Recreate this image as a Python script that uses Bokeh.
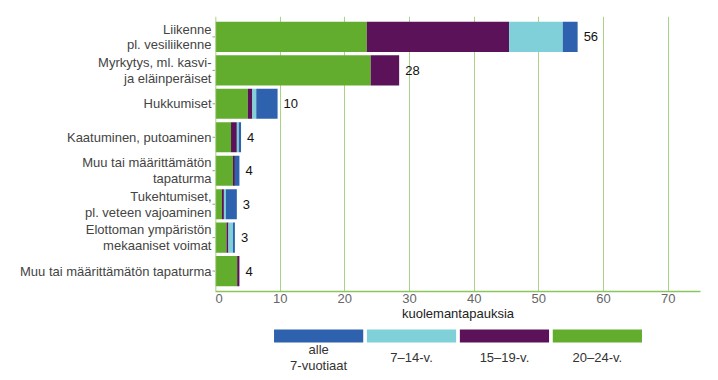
import math
from bokeh.plotting import figure
from bokeh.models import FactorRange, Range1d, FixedTicker, ColumnDataSource, Span
from bokeh.layouts import column, row
from bokeh.core.properties import value
from bokeh.embed import file_html
from bokeh.resources import INLINE

categories = [
    "Liikenne\npl. vesiliikenne",
    "Myrkytys, ml. kasvi-\nja eläinperäiset",
    "Hukkumiset",
    "Kaatuminen, putoaminen",
    "Muu tai määrittämätön\ntapaturma",
    "Tukehtumiset,\npl. veteen vajoaminen",
    "Elottoman ympäristön\nmekaaniset voimat",
    "Muu tai määrittämätön tapaturma",
]
v20_24 = [23.4, 24.0, 5.0, 2.4, 2.7, 1.0, 1.7, 3.35]
v15_19 = [22.0, 4.4, 0.7, 0.9, 0.3, 0.3, 0.3, 0.35]
v7_14 = [8.3, 0.0, 0.6, 0.3, 0.0, 0.3, 0.7, 0.0]
alle7 = [2.3, 0.0, 3.3, 0.35, 0.7, 1.7, 0.3, 0.0]
totals_label = ["56", "28", "10", "4", "4", "3", "3", "4"]

series_keys = ["v20_24", "v15_19", "v7_14", "alle7"]
series_colors = ["#63ad2e", "#5b1259", "#7fd0d9", "#2e62ae"]
legend_labels = ["alle\n7-vuotiaat", "7–14-v.", "15–19-v.", "20–24-v."]
legend_colors = ["#2e62ae", "#7fd0d9", "#5b1259", "#63ad2e"]
x_ticks = [0, 10, 20, 30, 40, 50, 60, 70]

FONT = "Liberation Sans"
GRID = "#a9d487"
AXIS = "#8cc45e"
LEFT = 215
RIGHT = 10
W = 710
H = 324
TOP = 16
BOTTOM = 33

ends = [a + b + c + d for a, b, c, d in zip(v20_24, v15_19, v7_14, alle7)]
ones = [1] * len(categories)
src = ColumnDataSource(dict(cat=categories, v20_24=v20_24, v15_19=v15_19,
                            v7_14=v7_14, alle7=alle7, end=ends, lab=totals_label,
                            one=ones))

yr = FactorRange(factors=list(reversed(categories)), range_padding=0.11,
                 range_padding_units="absolute")

p = figure(width=W - LEFT, height=H, output_backend="svg", toolbar_location=None,
           y_range=yr, x_range=Range1d(0, 75),
           min_border_left=0, min_border_right=RIGHT,
           min_border_top=TOP, min_border_bottom=BOTTOM)
p.outline_line_color = None
p.hbar_stack(series_keys, y="cat", height=0.9, color=series_colors, source=src,
             line_color=None)
p.text(x="end", y="cat", text="lab", source=src, x_offset=6, text_baseline="middle",
       text_align="left", text_font=value(FONT), text_font_size="13px", text_color="#111111")

p.ygrid.grid_line_color = None
p.xgrid.grid_line_color = GRID
p.xgrid.grid_line_width = 1
p.xaxis.ticker = FixedTicker(ticks=x_ticks)
p.xaxis.axis_line_color = AXIS
p.xaxis.axis_line_width = 1.5
p.xaxis.major_tick_line_color = None
p.xaxis.minor_tick_line_color = None
p.xaxis.major_tick_out = 0
p.xaxis.major_tick_in = 0
p.xaxis.major_label_standoff = 2
p.xaxis.major_label_text_font = FONT
p.xaxis.major_label_text_font_size = "13px"
p.xaxis.major_label_text_color = "#666666"
p.xaxis.axis_label = "kuolemantapauksia"
p.xaxis.axis_label_standoff = 0
p.xaxis.axis_label_text_font = FONT
p.xaxis.axis_label_text_font_size = "13px"
p.xaxis.axis_label_text_font_style = "normal"
p.xaxis.axis_label_text_color = "#222222"
p.yaxis.visible = False
p.add_layout(Span(location=0, dimension="height", line_color=AXIS, line_width=1.5))

# category label panel (shares the y range)
lf = figure(width=LEFT, height=H, output_backend="svg", toolbar_location=None,
            y_range=yr, x_range=Range1d(0, 1),
            min_border_left=0, min_border_right=0,
            min_border_top=TOP, min_border_bottom=BOTTOM)
lf.outline_line_color = None
lf.axis.visible = False
lf.grid.grid_line_color = None
lf.ray(x="one", y="cat", length=3, length_units="screen", angle=math.pi,
       line_color="#999999", line_width=1, source=src)
lf.text(x="one", y="cat", text="cat", source=src, x_offset=-4, text_align="right",
        text_baseline="middle", text_font=value(FONT), text_font_size="13px",
        text_color="#444444", text_line_height=1.05)

# legend figure
lsrc = ColumnDataSource(dict(lab=legend_labels, col=legend_colors))
lg = figure(width=W, height=48, output_backend="svg", toolbar_location=None,
            x_range=FactorRange(factors=legend_labels, range_padding=0.61,
                                range_padding_units="absolute"),
            y_range=Range1d(48, 0),
            min_border_left=LEFT, min_border_right=RIGHT, min_border_top=0, min_border_bottom=0)
lg.outline_line_color = None
lg.axis.visible = False
lg.grid.grid_line_color = None
lg.vbar(x="lab", top=5, bottom=18, width=0.96, color="col", line_color=None, source=lsrc)
lg.text(x="lab", y=33, text="lab", source=lsrc, text_align="center", text_baseline="middle",
        text_font=value(FONT), text_font_size="13px", text_color="#333333",
        text_line_height=1.05)

layout = column(row(lf, p, spacing=0), lg, spacing=0)
open("out.html", "w").write(file_html(layout, INLINE))
